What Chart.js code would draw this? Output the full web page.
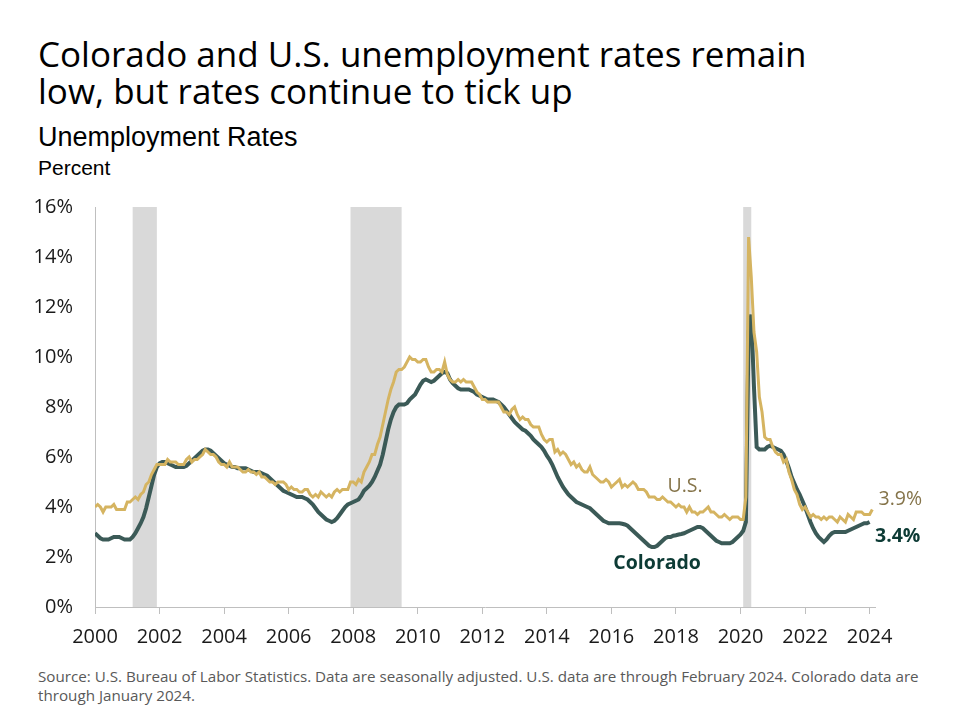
<!DOCTYPE html>
<html lang="en">
<head>
  <meta charset="UTF-8">
  <title>Colorado and U.S. unemployment rates</title>
  <script src="https://cdn.jsdelivr.net/npm/chart.js"></script>
  <style>
    body {
      margin: 0;
      width: 960px;
      height: 720px;
      position: relative;
      overflow: hidden;
      background: #fff;
      font-family: "Open Sans", sans-serif;
      color: #000;
    }
    h1 {
      position: absolute;
      left: 38px;
      top: 35px;
      margin: 0;
      font-weight: normal;
      font-size: 35px;
      line-height: 37px;
    }
    .subtitle {
      position: absolute;
      left: 38px;
      top: 122px;
      font-family: "Liberation Sans", Arial, sans-serif;
      font-size: 27px;
      line-height: 30px;
    }
    .units {
      position: absolute;
      left: 38px;
      top: 156px;
      font-family: "Liberation Sans", Arial, sans-serif;
      font-size: 21px;
      line-height: 24px;
    }
    #chart {
      position: absolute;
      left: 0;
      top: 173px;
    }
    .source {
      position: absolute;
      left: 38px;
      top: 667px;
      font-size: 15.2px;
      line-height: 19px;
      color: #595959;
    }
  </style>
</head>
<body>
  <h1>Colorado and U.S. unemployment rates remain<br>low, but rates continue to tick up</h1>
  <div class="subtitle">Unemployment Rates</div>
  <div class="units">Percent</div>
  <canvas id="chart" width="960" height="484"></canvas>
  <div class="source">Source: U.S. Bureau of Labor Statistics. Data are seasonally adjusted. U.S. data are through February 2024. Colorado data are<br>through January 2024.</div>

  <script>
    // monthly rates in percent, first value is January 2000
    const startYear = 2000;

    // U.S., Jan 2000 - Feb 2024
    const usRates = [
      4.0, 4.1, 4.0, 3.8, 4.0, 4.0, 4.0, 4.1, 3.9, 3.9, 3.9, 3.9,
      4.2, 4.2, 4.3, 4.4, 4.3, 4.5, 4.6, 4.9, 5.0, 5.3, 5.5, 5.7,
      5.7, 5.7, 5.7, 5.9, 5.8, 5.8, 5.8, 5.7, 5.7, 5.7, 5.9, 6.0,
      5.8, 5.9, 5.9, 6.0, 6.1, 6.3, 6.2, 6.1, 6.1, 6.0, 5.8, 5.7,
      5.7, 5.6, 5.8, 5.6, 5.6, 5.6, 5.5, 5.4, 5.4, 5.5, 5.4, 5.4,
      5.3, 5.4, 5.2, 5.2, 5.1, 5.0, 5.0, 4.9, 5.0, 5.0, 5.0, 4.9,
      4.7, 4.8, 4.7, 4.7, 4.6, 4.6, 4.7, 4.7, 4.5, 4.4, 4.5, 4.4,
      4.6, 4.5, 4.4, 4.5, 4.4, 4.6, 4.7, 4.6, 4.7, 4.7, 4.7, 5.0,
      5.0, 4.9, 5.1, 5.0, 5.4, 5.6, 5.8, 6.1, 6.1, 6.5, 6.8, 7.3,
      7.8, 8.3, 8.7, 9.0, 9.4, 9.5, 9.5, 9.6, 9.8, 10.0, 9.9, 9.9,
      9.8, 9.8, 9.9, 9.9, 9.6, 9.4, 9.4, 9.5, 9.5, 9.4, 9.8, 9.3,
      9.1, 9.0, 9.0, 9.1, 9.0, 9.1, 9.0, 9.0, 9.0, 8.8, 8.6, 8.5,
      8.3, 8.3, 8.2, 8.2, 8.2, 8.2, 8.2, 8.0, 7.8, 7.8, 7.7, 7.9,
      8.0, 7.7, 7.5, 7.6, 7.5, 7.5, 7.3, 7.2, 7.2, 7.2, 6.9, 6.7,
      6.6, 6.7, 6.7, 6.2, 6.3, 6.1, 6.2, 6.1, 5.9, 5.7, 5.8, 5.6,
      5.7, 5.5, 5.4, 5.4, 5.6, 5.3, 5.2, 5.1, 5.0, 5.0, 5.1, 5.0,
      4.8, 4.9, 5.0, 5.1, 4.8, 4.9, 4.8, 4.9, 5.0, 4.9, 4.7, 4.7,
      4.7, 4.6, 4.4, 4.4, 4.4, 4.3, 4.3, 4.4, 4.3, 4.2, 4.2, 4.1,
      4.0, 4.1, 4.0, 4.0, 3.8, 4.0, 3.8, 3.8, 3.7, 3.8, 3.8, 3.9,
      4.0, 3.8, 3.8, 3.7, 3.6, 3.6, 3.7, 3.6, 3.5, 3.6, 3.6, 3.6,
      3.5, 3.5, 4.4, 14.8, 13.2, 11.0, 10.2, 8.4, 7.8, 6.8, 6.7, 6.7,
      6.4, 6.2, 6.1, 6.1, 5.8, 5.9, 5.4, 5.1, 4.7, 4.5, 4.1, 3.9,
      4.0, 3.8, 3.6, 3.7, 3.6, 3.6, 3.5, 3.6, 3.5, 3.6, 3.6, 3.5,
      3.4, 3.6, 3.5, 3.4, 3.7, 3.6, 3.5, 3.8, 3.8, 3.8, 3.7, 3.7,
      3.7, 3.9
    ];

    // Colorado, Jan 2000 - Jan 2024
    const coloradoRates = [
      2.95, 2.85, 2.75, 2.7, 2.7, 2.7, 2.75, 2.8, 2.8, 2.8, 2.75, 2.7,
      2.7, 2.7, 2.8, 2.95, 3.15, 3.35, 3.6, 3.95, 4.4, 4.85, 5.3, 5.6,
      5.75, 5.8, 5.8, 5.75, 5.7, 5.65, 5.6, 5.6, 5.6, 5.6, 5.65, 5.75,
      5.85, 5.95, 6.05, 6.15, 6.25, 6.3, 6.3, 6.25, 6.15, 6.05, 5.95, 5.85,
      5.75, 5.7, 5.65, 5.6, 5.6, 5.55, 5.55, 5.55, 5.55, 5.5, 5.45, 5.4,
      5.4, 5.4, 5.35, 5.3, 5.25, 5.15, 5.05, 4.95, 4.85, 4.75, 4.65, 4.6,
      4.55, 4.5, 4.45, 4.4, 4.4, 4.4, 4.35, 4.3, 4.2, 4.1, 3.95, 3.8,
      3.7, 3.6, 3.5, 3.45, 3.4, 3.45, 3.55, 3.7, 3.85, 4.0, 4.1, 4.15,
      4.2, 4.25, 4.3, 4.45, 4.65, 4.75, 4.85, 5.0, 5.2, 5.45, 5.7, 6.1,
      6.6, 7.1, 7.5, 7.8, 8.0, 8.1, 8.1, 8.1, 8.15, 8.3, 8.4, 8.5,
      8.7, 8.9, 9.05, 9.1, 9.05, 9.0, 9.05, 9.15, 9.25, 9.35, 9.4, 9.35,
      9.1, 8.95, 8.85, 8.75, 8.7, 8.7, 8.7, 8.7, 8.65, 8.6, 8.5, 8.45,
      8.4, 8.35, 8.3, 8.3, 8.3, 8.25, 8.2, 8.1, 8.0, 7.85, 7.7, 7.55,
      7.4, 7.3, 7.2, 7.1, 7.05, 6.95, 6.85, 6.7, 6.6, 6.5, 6.4, 6.25,
      6.05, 5.9, 5.7, 5.45, 5.2, 5.0, 4.8, 4.65, 4.5, 4.4, 4.3, 4.2,
      4.15, 4.1, 4.05, 4.0, 3.95, 3.85, 3.75, 3.65, 3.55, 3.45, 3.4, 3.35,
      3.35, 3.35, 3.35, 3.35, 3.33, 3.3, 3.25, 3.15, 3.05, 2.95, 2.85, 2.75,
      2.65, 2.55, 2.45, 2.4, 2.4, 2.45, 2.55, 2.65, 2.75, 2.8, 2.8, 2.85,
      2.87, 2.9, 2.92, 2.95, 3.0, 3.05, 3.1, 3.15, 3.2, 3.2, 3.15, 3.05,
      2.95, 2.85, 2.75, 2.65, 2.6, 2.55, 2.55, 2.55, 2.55, 2.6, 2.7, 2.8,
      2.9, 3.05, 3.4, 11.0, 11.7, 8.8, 6.4, 6.3, 6.3, 6.3, 6.4, 6.45,
      6.4, 6.35, 6.3, 6.25, 6.1, 5.85, 5.55, 5.2, 4.95, 4.7, 4.5, 4.25,
      4.0, 3.7, 3.4, 3.15, 2.95, 2.8, 2.7, 2.6, 2.7, 2.85, 2.95, 3.0,
      3.0, 3.0, 3.0, 3.0, 3.05, 3.1, 3.15, 3.2, 3.25, 3.3, 3.35, 3.35,
      3.4
    ];

    const xTickYears = [2000, 2002, 2004, 2006, 2008, 2010, 2012, 2014, 2016, 2018, 2020, 2022, 2024];
    const yTickValues = [0, 2, 4, 6, 8, 10, 12, 14, 16];

    // recessions (first and last month)
    const recessionStarts = ['2001-03', '2007-12', '2020-02'];
    const recessionEnds = ['2001-11', '2009-06', '2020-04'];

    function monthIndex(ym) {
      const [y, m] = ym.split('-').map(Number);
      return (y - startYear) * 12 + (m - 1);
    }

    const toPoints = arr => arr.map((v, i) => ({ x: i, y: v }));

    // text labels next to the lines, placed in data units
    const lineLabels = [
      { text: 'U.S.', x: 219.4, y: 4.6, align: 'center', color: '#85744a', weight: 'normal' },
      { text: '3.9%', x: 291.3, y: 4.07, align: 'left', color: '#85744a', weight: 'normal' },
      { text: 'Colorado', x: 209, y: 1.54, align: 'center', color: '#0d3b35', weight: 'bold' },
      { text: '3.4%', x: 290, y: 2.61, align: 'left', color: '#0d3b35', weight: 'bold' }
    ];

    const recessionBands = {
      id: 'recessionBands',
      beforeDraw(chart) {
        const { ctx, chartArea, scales } = chart;
        ctx.save();
        ctx.fillStyle = '#d9d9d9';
        recessionStarts.forEach((s, i) => {
          const x0 = scales.x.getPixelForValue(monthIndex(s));
          const x1 = scales.x.getPixelForValue(monthIndex(recessionEnds[i]) + 1);
          ctx.fillRect(x0, chartArea.top, x1 - x0, chartArea.bottom - chartArea.top);
        });
        ctx.restore();
      }
    };

    const endLabels = {
      id: 'endLabels',
      afterDatasetsDraw(chart) {
        const { ctx, scales } = chart;
        ctx.save();
        ctx.textBaseline = 'alphabetic';
        lineLabels.forEach(l => {
          ctx.font = l.weight + ' 19.5px "Open Sans"';
          ctx.fillStyle = l.color;
          ctx.textAlign = l.align;
          ctx.fillText(l.text, scales.x.getPixelForValue(l.x), scales.y.getPixelForValue(l.y));
        });
        ctx.restore();
      }
    };

    const ctx = document.getElementById('chart').getContext('2d');
    new Chart(ctx, {
      type: 'line',
      data: {
        datasets: [
          {
            label: 'U.S.',
            data: toPoints(usRates),
            borderColor: '#d5b461',
            borderWidth: 3,
            pointRadius: 0
          },
          {
            label: 'Colorado',
            data: toPoints(coloradoRates),
            borderColor: '#3b5a57',
            borderWidth: 4,
            pointRadius: 0
          }
        ]
      },
      options: {
        responsive: false,
        animation: false,
        layout: { padding: { top: 16.7, right: 85, left: 0, bottom: 0 } },
        plugins: {
          legend: { display: false },
          tooltip: { enabled: false }
        },
        scales: {
          x: {
            type: 'linear',
            min: 0,
            max: 290,
            afterBuildTicks: s => { s.ticks = xTickYears.map(y => ({ value: (y - startYear) * 12 })); },
            afterFit: s => { s.height = 50; },
            ticks: {
              callback: v => String(startYear + v / 12),
              font: { family: 'Open Sans', size: 20 },
              color: '#1a1a1a',
              padding: 11,
              maxRotation: 0
            },
            grid: { drawOnChartArea: false, drawTicks: true, tickLength: 7, color: '#bfbfbf' },
            border: { display: true, color: '#bfbfbf' }
          },
          y: {
            min: 0,
            max: 16,
            afterBuildTicks: s => { s.ticks = yTickValues.map(v => ({ value: v })); },
            afterFit: s => { s.width = 95; },
            ticks: {
              callback: v => v + '%',
              font: { family: 'Open Sans', size: 20 },
              color: '#1a1a1a',
              padding: 22
            },
            grid: { drawOnChartArea: false, drawTicks: false },
            border: { display: true, color: '#bfbfbf' }
          }
        }
      },
      plugins: [recessionBands, endLabels]
    });
  </script>
</body>
</html>
